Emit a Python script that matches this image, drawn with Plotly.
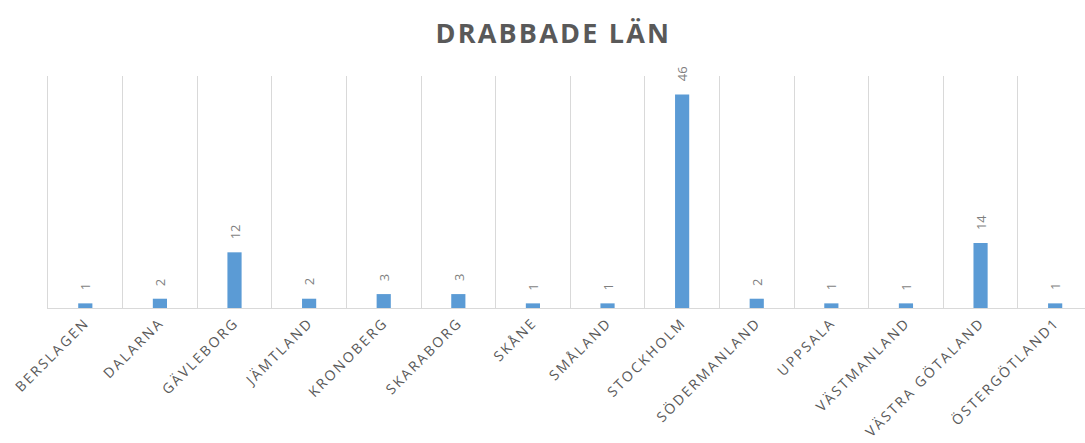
import plotly.graph_objects as go

categories = ["BERSLAGEN", "DALARNA", "GÄVLEBORG", "JÄMTLAND", "KRONOBERG", "SKARABORG",
              "SKÅNE", "SMÅLAND", "STOCKHOLM", "SÖDERMANLAND", "UPPSALA", "VÄSTMANLAND",
              "VÄSTRA GÖTALAND", "ÖSTERGÖTLAND1"]
values = [1, 2, 12, 2, 3, 3, 1, 1, 46, 2, 1, 1, 14, 1]

fig = go.Figure(go.Bar(
    x=categories, y=values,
    marker_color="#5b9bd5",
    marker_line_width=0,
    width=0.19,
    hoverinfo="skip",
))

for c, v in zip(categories, values):
    fig.add_annotation(
        x=c, y=v, xref="x", yref="y",
        text=str(v), showarrow=False, textangle=-90,
        xanchor="center", yanchor="bottom", yshift=11,
        font=dict(family="Open Sans", size=13, color="#7f7f7f"),
    )

fig.update_layout(
    width=1085, height=443,
    margin=dict(l=48, r=0, t=76, b=135),
    paper_bgcolor="white", plot_bgcolor="white",
    showlegend=False,
    title=dict(text="<b>DRABBADE LÄN</b>", x=0.51, xanchor="center", xref="container",
               y=0.925, yanchor="middle", yref="container",
               font=dict(family="Open Sans", size=27, color="#595959")),
    xaxis=dict(
        type="category",
        range=[-0.5, 13.4],
        automargin=False,
        tickson="boundaries",
        showgrid=True, gridcolor="#d9d9d9", gridwidth=1,
        showline=True, linecolor="#d9d9d9", linewidth=1,
        ticks="", tickangle=-45,
        tickfont=dict(family="Open Sans", size=14, color="#595959"),
    ),
    yaxis=dict(range=[0, 50], showgrid=False, zeroline=False,
               showticklabels=False, ticks="",
               showline=True, linecolor="#d9d9d9", linewidth=1,
               automargin=False),
)

post = """
document.body.style.margin='0';
document.body.style.overflow='hidden';
var gd = document.getElementsByClassName('plotly-graph-div')[0];
function spacing(){
  gd.querySelectorAll('.xtick text').forEach(function(t){ t.style.letterSpacing='2.2px'; });
  gd.querySelectorAll('.gtitle').forEach(function(t){ t.style.letterSpacing='2.2px'; });
}
spacing();
gd.on('plotly_afterplot', spacing);
"""

fig.write_html("out.html", post_script=post, config={"displayModeBar": False})
